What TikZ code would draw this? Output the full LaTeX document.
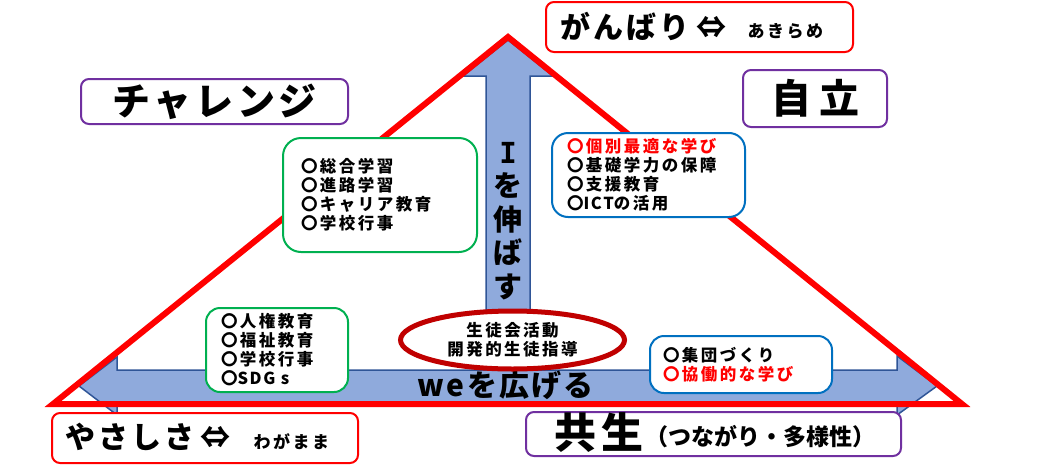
\documentclass[tikz,border=0pt]{standalone}
\usepackage{fontspec}
\setmainfont{Noto Sans CJK JP}
\newfontfamily\jpwide[LetterSpace=10]{Noto Sans CJK JP}
\newfontfamily\jpwider[LetterSpace=15]{Noto Sans CJK JP}
\newfontfamily\slabfont{DejaVu Sans Mono}
\usetikzlibrary{shapes.geometric}
\definecolor{arrowblue}{HTML}{8FAADC}
\definecolor{arrowline}{HTML}{2F5597}
\definecolor{boxred}{HTML}{FF0000}
\definecolor{boxpurple}{HTML}{7030A0}
\definecolor{boxgreen}{HTML}{00B050}
\definecolor{boxblue}{HTML}{0070C0}
\definecolor{ringred}{HTML}{C00000}
\newcommand{\jpsize}[1]{\fontsize{#1}{#1}\selectfont\jpwide\bfseries}
\newcommand{\jpsmall}[1]{\fontsize{#1}{#1}\selectfont\jpwider\bfseries}
\tikzset{
  titlebox/.style={shape=rectangle,rounded corners=8pt,line width=2pt,fill=white,inner sep=0pt},
  listbox/.style={shape=rectangle,line width=2pt,fill=white,inner ysep=0pt,align=left},
  listtext/.style={font=\fontsize{16.5}{19}\selectfont\jpwider\bfseries}
}
\begin{document}
\begin{tikzpicture}[x=1pt,y=-1pt]
            \useasboundingbox (0,0) rectangle (1043,469);

            % arrows
            \draw[fill=arrowblue,draw=arrowline,line width=1.5pt] (508,40) -- (553,76) -- (530,76) -- (530,370)
                -- (897,370) -- (897,356) -- (937,386) -- (897,415) -- (897,402)
                -- (117,402) -- (117,415) -- (79,386) -- (117,357) -- (117,370)
                -- (486,370) -- (486,76) -- (463,76) -- cycle;
            \draw[draw=boxred,line width=6pt,miter limit=10] (53,404) -- (508,37) -- (962,404) -- cycle;

            \node[align=center,font=\fontsize{29}{33.5}\selectfont\bfseries] (grow) at (508,221) {{\slabfont I}\\を\\伸\\ば\\す};
            \node[font=\fontsize{30}{30}\selectfont\jpwide\bfseries] (spread) at (505.5,385) {we\hspace{3pt}を\hspace{2pt}広\hspace{2pt}げ\hspace{2pt}る};

            % outer boxes
            \node[titlebox,draw=boxred,minimum width=307pt,minimum height=50pt] (effort) at (699.5,27) {};
            \node[font=\jpsize{30},anchor=west] (efforttext) at (557,26) {がんばり\hspace{7pt}⇔};
            \node[font=\jpsmall{17},anchor=west] (efforttail) at (744,31) {あきらめ};
            \node[titlebox,draw=boxpurple,minimum width=144pt,minimum height=57pt] (indep) at (815,98.5) {\fontsize{40}{40}\selectfont\bfseries 自\hspace{8pt}立};
            \node[titlebox,draw=boxpurple,minimum width=267pt,minimum height=45pt] (challenge) at (214.5,101.5) {\fontsize{38}{38}\selectfont\jpwide\bfseries チャレンジ};
            \node[titlebox,draw=boxred,minimum width=306pt,minimum height=50pt] (kind) at (205,438) {};
            \node[font=\jpsize{30},anchor=west] (kindtext) at (62,437) {やさしさ\hspace{6pt}⇔};
            \node[font=\jpsmall{17},anchor=west] (kindtail) at (250,442) {わがまま};
            \node[titlebox,draw=boxpurple,minimum width=375pt,minimum height=44pt] (together) at (713.5,434) {};
            \node[font=\fontsize{42}{42}\selectfont\bfseries,anchor=west] (togethertext) at (551,433) {共\hspace{5pt}生};
            \node[font=\fontsize{23}{23}\selectfont\bfseries,anchor=west] (togethertail) at (642,437) {（つながり・多様性）};

            % inner boxes
            \node[listbox,listtext,draw=boxgreen,rounded corners=18pt,text width=158pt,inner xsep=18pt,minimum height=114pt] (career) at (380,195) {〇総合学習\\〇進路学習\\〇キャリア教育\\〇学校行事};
            \node[listbox,listtext,draw=boxblue,rounded corners=16pt,text width=163pt,inner xsep=15pt,minimum height=84pt] (study) at (648.5,175) {\textcolor{boxred}{〇個別最適な学び}\\〇基礎学力の保障\\〇支援教育\\〇{\jpwide ICT}の活用};
            \node[listbox,listtext,draw=boxgreen,rounded corners=14pt,text width=112pt,inner xsep=15pt,minimum height=84pt] (rights) at (277,350) {〇人権教育\\〇福祉教育\\〇学校行事\\〇{\jpwide SDG s}};
            \node[listbox,listtext,draw=boxblue,rounded corners=14pt,text width=156pt,inner xsep=13pt,minimum height=57pt] (group) at (741,364.5) {〇集団づくり\\\textcolor{boxred}{〇協働的な学び}};
            \node[shape=ellipse,draw=ringred,line width=5pt,fill=white,minimum width=224pt,minimum height=58pt,inner sep=0pt,align=center,listtext] (council) at (512.5,340) {生徒会活動\\開発的生徒指導};

        \end{tikzpicture}
\end{document}
